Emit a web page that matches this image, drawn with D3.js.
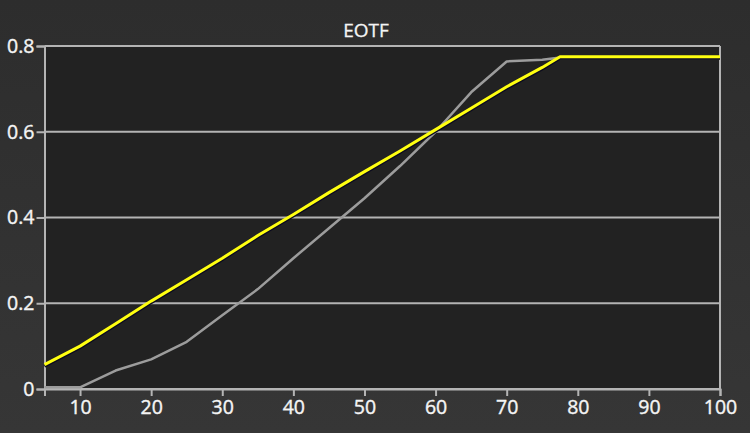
<!DOCTYPE html>
<html><head><meta charset="utf-8">
<script src="https://cdn.jsdelivr.net/npm/d3@7"></script>
<style>html,body{margin:0;padding:0;background:#333;}svg{display:block;}</style>
</head><body>
<svg id="c" width="750" height="433"></svg>
<script>
const title = "EOTF";
const xTicks = [10,20,30,40,50,60,70,80,90,100];
const yTicks = [0,0.2,0.4,0.6,0.8];
const yTickLabels = ["0","0.2","0.4","0.6","0.8"];
const grayX = [5,10,15,20,25,30,35,40,45,50,55,60,65,70,75,77,80,85,90,95,100];
const grayY = [0.004,0.004,0.043,0.069,0.11,0.172,0.233,0.305,0.375,0.445,0.52,0.6,0.692,0.764,0.768,0.772,0.772,0.772,0.772,0.772,0.772];
const yellowX = [5,10,15,20,25,30,35,40,45,50,55,60,65,70,75,77.5,80,85,90,95,100];
const yellowY = [0.057,0.1,0.152,0.205,0.255,0.305,0.358,0.407,0.458,0.507,0.555,0.605,0.655,0.705,0.75,0.775,0.775,0.775,0.775,0.775,0.775];

const svg = d3.select("#c");
const defs = svg.append("defs");
const g0 = defs.append("linearGradient").attr("id","bg").attr("x1",0).attr("y1",0).attr("x2",0).attr("y2",1);
g0.append("stop").attr("offset","0%").attr("stop-color","#2d2d2d");
g0.append("stop").attr("offset","100%").attr("stop-color","#363636");
svg.append("rect").attr("width",750).attr("height",433).attr("fill","url(#bg)");

const x = d3.scaleLinear().domain([5,100]).range([44.5,720]);
const y = d3.scaleLinear().domain([0,0.8]).range([389,46]);

svg.append("rect").attr("x",x(5)).attr("y",y(0.8)).attr("width",x(100)-x(5)).attr("height",y(0)-y(0.8)).attr("fill","#222222");

const lineCol = "#b4b4b4";
const font = "'Open Sans', 'Noto Sans', sans-serif";
svg.append("g").selectAll("line").data(yTicks).join("line")
  .attr("x1",x(5)).attr("x2",x(100)).attr("y1",d=>y(d)).attr("y2",d=>y(d))
  .attr("stroke",lineCol).attr("stroke-width",2);
svg.append("line").attr("x1",x(100)).attr("x2",x(100)).attr("y1",y(0.8)).attr("y2",y(0))
  .attr("stroke",lineCol).attr("stroke-width",2);

const yAxis = d3.axisLeft(y).tickValues(yTicks).tickFormat((d,i)=>yTickLabels[i]).tickSize(8).tickPadding(2);
const gy = svg.append("g").attr("transform",`translate(${x(5)},0)`).call(yAxis);
const xAxis = d3.axisBottom(x).tickValues(xTicks).tickFormat(d3.format("d")).tickSize(7).tickPadding(4);
const gx = svg.append("g").attr("transform",`translate(0,${y(0)})`).call(xAxis);
[gx,gy].forEach(g=>{
  g.select(".domain").attr("stroke",lineCol).attr("stroke-width",2);
  g.selectAll(".tick line").attr("stroke",lineCol).attr("stroke-width",2);
  g.selectAll(".tick text").attr("fill","#f4f4f4").attr("font-family",font).attr("font-size","19.5px")
    .attr("stroke","#f4f4f4").attr("stroke-width",0.4);
});

const line = d3.line().x(d=>x(d[0])).y(d=>y(d[1]));
const grayData = grayX.map((v,i)=>[v,grayY[i]]);
const yellowData = yellowX.map((v,i)=>[v,yellowY[i]]);

svg.append("path").datum(grayData).attr("d",line).attr("fill","none")
  .attr("stroke","#9c9c9c").attr("stroke-width",2.5).attr("stroke-linejoin","round");
svg.append("path").datum(yellowData).attr("d",line).attr("fill","none")
  .attr("transform","translate(0,1.5)")
  .attr("stroke","#0a0a20").attr("stroke-width",3).attr("stroke-linejoin","round");
svg.append("path").datum(yellowData).attr("d",line).attr("fill","none")
  .attr("stroke","#ffff10").attr("stroke-width",3).attr("stroke-linejoin","round");

svg.append("text").attr("x",366).attr("y",37).attr("text-anchor","middle")
  .attr("fill","#f4f4f4").attr("stroke","#f4f4f4").attr("stroke-width",0.3)
  .attr("font-family",font).attr("font-size","19px")
  .text(title);
</script>
</body></html>
